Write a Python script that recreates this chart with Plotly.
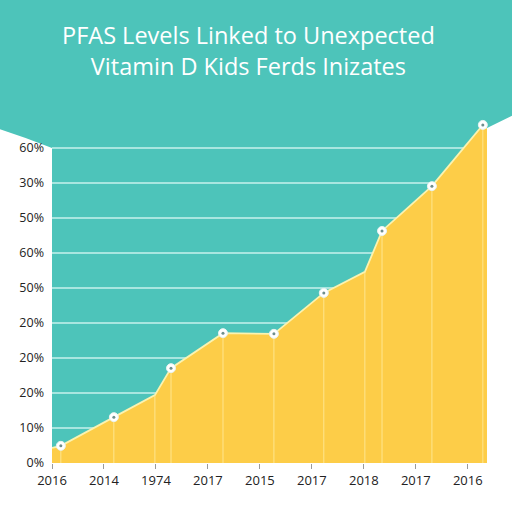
import plotly.graph_objects as go

# values (y in grid-step units, one step per 35px)
x_vals = [0.0, 0.17, 1.19, 1.98, 2.29, 3.29, 4.27, 5.23, 6.02, 6.35, 7.31, 8.29, 8.37]
y_vals = [0.43, 0.49, 1.31, 1.94, 2.71, 3.71, 3.69, 4.86, 5.46, 6.63, 7.91, 9.66, 9.57]
has_marker = [False, True, True, False, True, True, True, True, False, True, True, True, False]

x_tick_vals = [0, 1, 2, 3, 4, 5, 6, 7, 8]
x_tick_text = ["2016", "2014", "1974", "2017", "2015", "2017", "2018", "2017", "2016"]
y_tick_vals = [0, 1, 2, 3, 4, 5, 6, 7, 8, 9]
y_tick_text = ["0%", "10%", "20%", "20%", "20%", "50%", "60%", "50%", "30%", "60%"]

title_lines = ["PFAS Levels Linked to Unexpected", "Vitamin D Kids Ferds Inizates"]

TEAL = "#4dc4ba"
YELLOW = "#fdcd48"

mx = [x for x, m in zip(x_vals, has_marker) if m]
my = [y for y, m in zip(y_vals, has_marker) if m]

# faint drop lines under every inner vertex
drop_x, drop_y = [], []
for x, y in zip(x_vals[1:-1], y_vals[1:-1]):
    drop_x += [x, x, None]
    drop_y += [0, y, None]

fig = go.Figure()
fig.add_trace(go.Scatter(x=x_vals, y=y_vals, mode="lines", fill="tozeroy",
                         fillcolor=YELLOW, line=dict(color="#fbf3b0", width=1.8),
                         hoverinfo="skip"))
fig.add_trace(go.Scatter(x=drop_x, y=drop_y, mode="lines",
                         line=dict(color="rgba(255,236,160,0.8)", width=1),
                         hoverinfo="skip"))
fig.add_trace(go.Scatter(x=mx, y=my, mode="markers",
                         marker=dict(color="white", size=9,
                                     line=dict(color="#e8f4f2", width=1)),
                         cliponaxis=False))
fig.add_trace(go.Scatter(x=mx, y=my, mode="markers",
                         marker=dict(color="#6f8e8c", size=3), cliponaxis=False))

# teal header band with a soft curved lower edge
fig.add_shape(type="path", xref="paper", yref="paper", layer="below",
              path="M -0.2 1.4 L -0.2 0.97 L -0.12 0.954 Q -0.06 0.93 0 0.9 L 0 1.0 "
                   "L 1 1.0 L 1 0.957 L 1.06 0.994 L 1.2 1.0 L 1.2 1.4 Z",
              fillcolor=TEAL, line=dict(width=0))

fig.add_annotation(text="<br>".join(title_lines), xref="paper", yref="paper",
                   x=0.451, y=1.178, xanchor="center", yanchor="middle",
                   showarrow=False, align="center",
                   font=dict(family="Open Sans", size=23.5, color="white", weight=500))

fig.update_layout(
    width=512, height=512,
    margin=dict(l=52, r=25, t=113, b=49),
    paper_bgcolor="white", plot_bgcolor=TEAL,
    showlegend=False,
    font=dict(family="Open Sans", color="#222222"),
)
fig.update_xaxes(range=[0, 8.37], tickvals=x_tick_vals, ticktext=x_tick_text,
                 showgrid=False, zeroline=False, showline=False,
                 ticks="outside", ticklen=5, tickcolor="#9a9a9a",
                 tickfont=dict(size=13, color="#222222"))
fig.update_yaxes(range=[0, 10], tickvals=y_tick_vals, ticktext=y_tick_text,
                 showgrid=True, gridcolor="#a8e6e0", gridwidth=1.5,
                 zeroline=False, showline=False, ticklabelstandoff=7,
                 tickfont=dict(size=12.5, color="#222222"))

# drop the browser's default page margin so the 512px figure fills the window
fig.write_html("out.html", config={"displayModeBar": False},
               post_script="document.body.style.margin='0';")
